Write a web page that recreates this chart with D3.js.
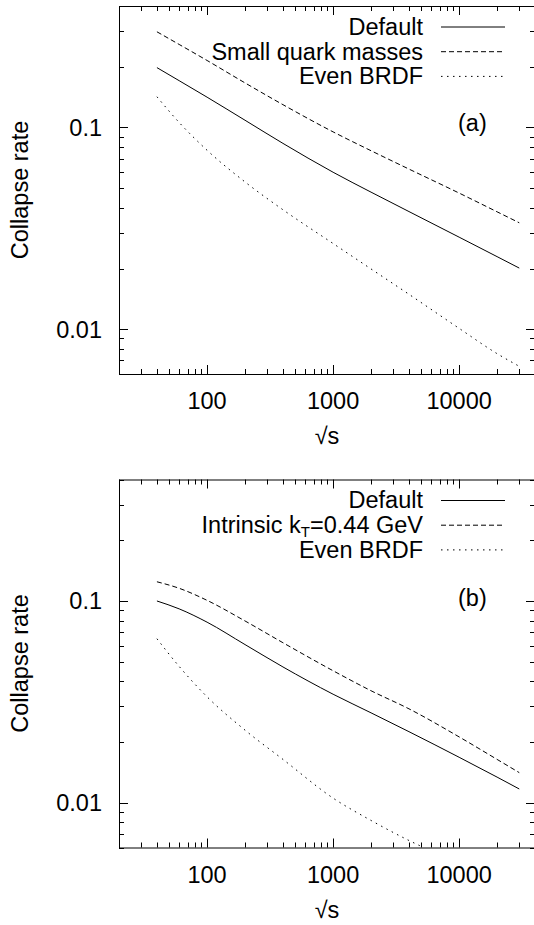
<!DOCTYPE html>
<html>
<head>
<meta charset="utf-8">
<script src="https://cdn.jsdelivr.net/npm/d3@7"></script>
<style>
  html, body { margin: 0; padding: 0; background: #fff; }
  svg { display: block; }
  text { font-family: "Liberation Sans", Arial, Helvetica, sans-serif; fill: #000; }
</style>
</head>
<body>
<svg id="chart" width="534" height="925"></svg>
<script>
// Collision energies (GeV) at which the rates are sampled
const energies = [40, 60, 100, 200, 400, 1000, 2000, 4000, 10000, 20000, 30000];

// Panel (a)
const defaultA    = [0.198, 0.1706, 0.1413, 0.1086, 0.0834, 0.0600, 0.0478, 0.0383, 0.0286, 0.0229, 0.0201];
const smallQuarkA = [0.298, 0.258, 0.2148, 0.1663, 0.1297, 0.0951, 0.0767, 0.0622, 0.0473, 0.0382, 0.0337];
const evenBrdfA   = [0.142, 0.1059, 0.0771, 0.0537, 0.0391, 0.0266, 0.0199, 0.0149, 0.0101, 0.00757, 0.00655];

// Panel (b)
const defaultB     = [0.100, 0.0914, 0.0785, 0.0608, 0.0471, 0.0345, 0.0279, 0.0225, 0.0168, 0.0134, 0.0117];
const intrinsicKtB = [0.1245, 0.1156, 0.1007, 0.0796, 0.0621, 0.0451, 0.0359, 0.0292, 0.0212, 0.0164, 0.0141];
const evenBrdfBEnergies = [40, 60, 100, 200, 400, 1000, 2000, 4000, 5000];
const evenBrdfB         = [0.065, 0.0474, 0.0335, 0.0229, 0.0164, 0.01054, 0.00817, 0.0065, 0.00608];

// Axis ranges and tick labels
const xDomain = [20, 40000];
const yDomain = [0.006, 0.4];
const xTickLabels = [100, 1000, 10000];
const yTickLabels = [0.01, 0.1];
const yTickText = ["0.01", "0.1"];

const FONT = 23.5;
const SUB_FONT = 15;
const svg = d3.select("#chart");

const styles = {
  solid:  null,
  dashed: "5,3",
  dotted: "1.5,4.5"
};

function minorTicks(lo, hi) {
  const out = [];
  for (let p = Math.floor(Math.log10(lo)); p <= Math.ceil(Math.log10(hi)); p++) {
    for (let m = 1; m <= 9; m++) {
      const v = m * Math.pow(10, p);
      if (v >= lo * 0.9999 && v <= hi * 1.0001) out.push({ v, major: m === 1 });
    }
  }
  return out;
}

let panelId = 0;
function drawPanel(cfg) {
  const { top, bottom, series, legend, tag } = cfg;
  const left = 119, right = 535;
  const x = d3.scaleLog().domain(xDomain).range([left, right]);
  const y = d3.scaleLog().domain(yDomain).range([bottom, top]);
  const g = svg.append("g");
  const clipId = "plotclip" + (panelId++);

  g.append("clipPath").attr("id", clipId)
    .append("rect")
    .attr("x", left).attr("y", top)
    .attr("width", right - left).attr("height", bottom - top);

  // curves
  const line = d3.line()
    .x(d => x(d[0]))
    .y(d => y(d[1]))
    .curve(d3.curveMonotoneX);
  const curves = g.append("g").attr("clip-path", `url(#${clipId})`);
  series.forEach(s => {
    curves.append("path")
      .datum(s.xs.map((e, i) => [e, s.ys[i]]))
      .attr("d", line)
      .attr("fill", "none")
      .attr("stroke", "#000")
      .attr("stroke-width", 1)
      .attr("stroke-dasharray", styles[s.style]);
  });

  // frame
  g.append("rect")
    .attr("x", left + 0.5).attr("y", top + 0.5)
    .attr("width", right - left).attr("height", bottom - top)
    .attr("fill", "none").attr("stroke", "#000").attr("stroke-width", 1);

  // ticks on all four sides, pointing inward
  const tk = g.append("g").attr("stroke", "#000").attr("stroke-width", 1);
  minorTicks(xDomain[0], xDomain[1]).forEach(t => {
    const len = t.major ? 9 : 5;
    const px = Math.round(x(t.v)) + 0.5;
    tk.append("line").attr("x1", px).attr("x2", px).attr("y1", bottom).attr("y2", bottom - len);
    tk.append("line").attr("x1", px).attr("x2", px).attr("y1", top).attr("y2", top + len);
  });
  minorTicks(yDomain[0], yDomain[1]).forEach(t => {
    const len = t.major ? 9 : 5;
    const py = Math.round(y(t.v)) + 0.5;
    tk.append("line").attr("y1", py).attr("y2", py).attr("x1", left).attr("x2", left + len);
    tk.append("line").attr("y1", py).attr("y2", py).attr("x1", right).attr("x2", right - len);
  });

  // tick labels
  xTickLabels.forEach(v => {
    g.append("text").attr("x", x(v)).attr("y", bottom + 35)
      .attr("text-anchor", "middle").attr("font-size", FONT).text(v);
  });
  yTickLabels.forEach((v, i) => {
    g.append("text").attr("x", 102).attr("y", y(v) + 8.4)
      .attr("text-anchor", "end").attr("font-size", FONT).text(yTickText[i]);
  });

  // axis titles
  g.append("text").attr("x", 327).attr("y", bottom + 70)
    .attr("text-anchor", "middle").attr("font-size", FONT).text("√s");
  g.append("text")
    .attr("transform", `translate(28,${(top + bottom) / 2}) rotate(-90)`)
    .attr("text-anchor", "middle").attr("font-size", FONT).text("Collapse rate");

  // key: each entry is laid out right to left so a subscript can sit
  // in its own text element without stretching the line box
  legend.forEach((item, i) => {
    const ly = top + 20.5 + i * 24.7;
    let xr = 423;
    item.parts.slice().reverse().forEach(p => {
      const t = g.append("text")
        .attr("x", xr)
        .attr("y", ly + 8.4 + (p.sub ? 4 : 0))
        .attr("text-anchor", "end")
        .attr("font-size", p.sub ? SUB_FONT : FONT)
        .text(p.text);
      xr -= t.node().getComputedTextLength();
    });
    g.append("line")
      .attr("x1", 441).attr("x2", 505).attr("y1", ly + 0.5).attr("y2", ly + 0.5)
      .attr("stroke", "#000").attr("stroke-width", 1)
      .attr("stroke-dasharray", styles[item.style]);
  });

  // panel tag
  g.append("text").attr("x", 458).attr("y", tag.y)
    .attr("font-size", FONT).text(tag.text);
}

drawPanel({
  top: 6, bottom: 374,
  series: [
    { xs: energies, ys: defaultA, style: "solid" },
    { xs: energies, ys: smallQuarkA, style: "dashed" },
    { xs: energies, ys: evenBrdfA, style: "dotted" }
  ],
  legend: [
    { parts: [{ text: "Default" }], style: "solid" },
    { parts: [{ text: "Small quark masses" }], style: "dashed" },
    { parts: [{ text: "Even BRDF" }], style: "dotted" }
  ],
  tag: { text: "(a)", y: 131 }
});

drawPanel({
  top: 479.5, bottom: 847.5,
  series: [
    { xs: energies, ys: defaultB, style: "solid" },
    { xs: energies, ys: intrinsicKtB, style: "dashed" },
    { xs: evenBrdfBEnergies, ys: evenBrdfB, style: "dotted" }
  ],
  legend: [
    { parts: [{ text: "Default" }], style: "solid" },
    { parts: [{ text: "Intrinsic k" }, { text: "T", sub: true }, { text: "=0.44 GeV" }], style: "dashed" },
    { parts: [{ text: "Even BRDF" }], style: "dotted" }
  ],
  tag: { text: "(b)", y: 606 }
});
</script>
</body>
</html>
